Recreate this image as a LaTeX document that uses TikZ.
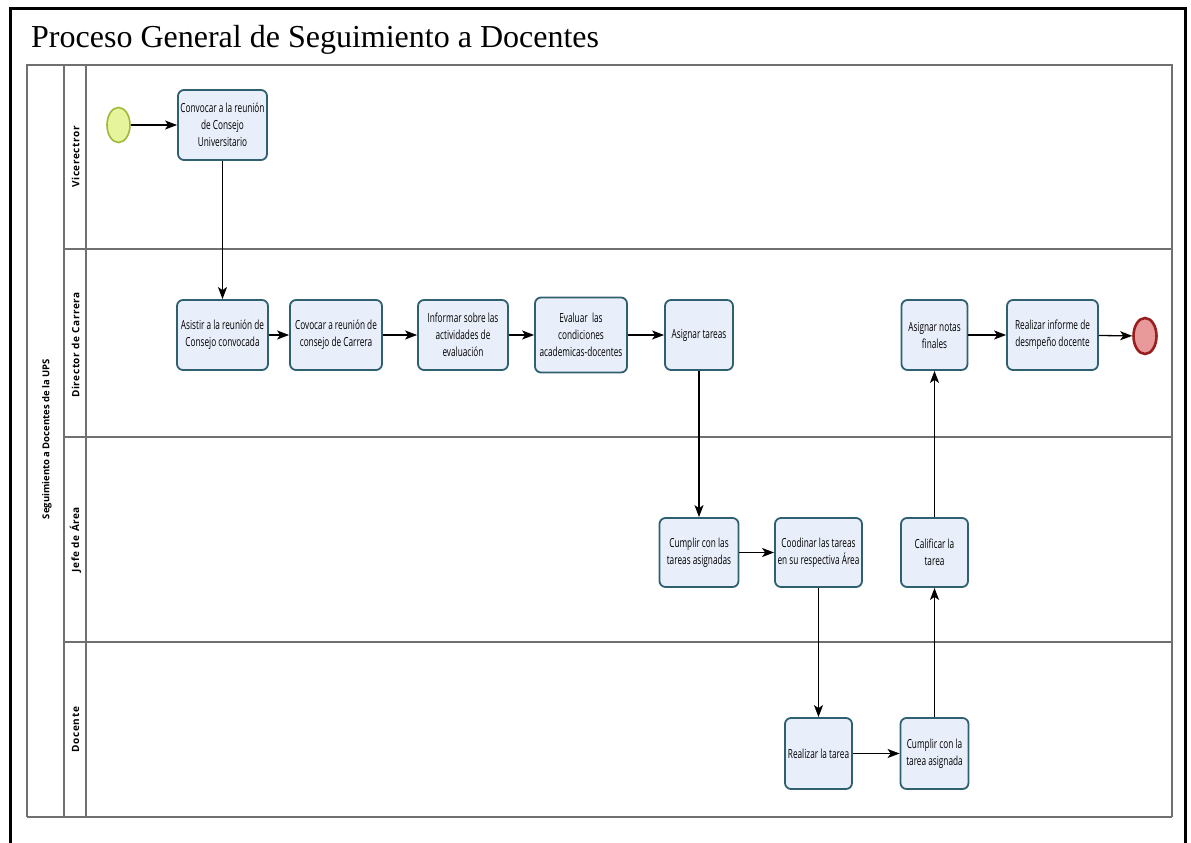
\documentclass[tikz,border=0pt]{standalone}
\usepackage{fontspec}
\setmainfont{Liberation Serif}
\newfontfamily\boxfont[FakeStretch=0.66]{Open Sans}
\newfontfamily\lanefont[LetterSpace=6]{Open Sans}
\newfontfamily\poolfont{Open Sans}
\usetikzlibrary{arrows.meta,shapes.geometric}
\definecolor{taskline}{HTML}{2F6070}
\definecolor{taskfill}{HTML}{E9EFFA}
\definecolor{poolline}{HTML}{707070}
\definecolor{startfill}{HTML}{E6F59C}
\definecolor{startline}{HTML}{9DB83A}
\definecolor{endfill}{HTML}{E89A9A}
\definecolor{endline}{HTML}{9A1E1E}
\tikzset{
  task/.style={draw=taskline, fill=taskfill, line width=1.8pt, rounded corners=6pt,
    font=\boxfont\fontsize{12.5}{17}\selectfont, align=center, inner sep=2pt},
  startev/.style={ellipse, draw=startline, fill=startfill, line width=1.6pt,
    minimum width=23pt, minimum height=35pt, inner sep=0pt},
  endev/.style={ellipse, draw=endline, fill=endfill, line width=2.6pt,
    minimum width=23pt, minimum height=36pt, inner sep=0pt},
  flow/.style={-{Stealth[length=12pt,width=9pt,inset=3pt]}, line width=1.3pt, black},
  lanelabel/.style={rotate=90, font=\lanefont\bfseries\fontsize{10}{12}\selectfont},
  poollabel/.style={rotate=90, font=\poolfont\bfseries\fontsize{9.5}{11}\selectfont},
  lanerule/.style={draw=poolline, line width=1.1pt}
}
\begin{document}
\begin{tikzpicture}[x=1pt,y=-1pt]
\useasboundingbox (0,0) rectangle (1191,843);
% outer frame, open at the bottom
\draw[line width=3pt] (10,843) -- (10,9) -- (1185,9) -- (1185,843);
% title
\node[anchor=base west, inner sep=0pt, font=\fontsize{32}{36}\selectfont] (title) at (31,48)
  {Proceso General de Seguimiento a Docentes};
% pool and lanes
\draw[lanerule] (27,817) -- (27,65) -- (1172,65) -- (1172,817);
\draw[draw=poolline, line width=2pt] (27,817) -- (1172,817);
\draw[lanerule] (64,65) -- (64,817);
\draw[lanerule] (86,65) -- (86,817);
\draw[lanerule] (64,249) -- (1172,249);
\draw[lanerule] (64,437) -- (1172,437);
\draw[lanerule] (64,642) -- (1172,642);
\node[poollabel] (pool) at (47,439) {Seguimiento a Docentes de la UPS};
\node[lanelabel] (l1) at (75.5,157) {Vicerectror};
\node[lanelabel] (l2) at (75.5,345) {Director de Carrera};
\node[lanelabel] (l3) at (75.5,539.5) {Jefe de Área};
\node[lanelabel] (l4) at (75.5,729.5) {Docente};
% events
\node[startev] (start) at (118.5,125) {};
\node[endev] (end) at (1145,336) {};
% tasks
\node[task, minimum width=89pt, minimum height=70pt] (conv) at (222.5,125)
  {Convocar a la reunión\\de Consejo\\Universitario};
\node[task, minimum width=91pt, minimum height=70pt] (asis) at (222.5,335)
  {Asistir a la reunión de\\Consejo convocada};
\node[task, minimum width=92pt, minimum height=70pt] (cov) at (336,335)
  {Covocar a reunión de\\consejo de Carrera};
\node[task, minimum width=90pt, minimum height=70pt] (inf) at (463,335)
  {Informar sobre las\\actividades de\\evaluación};
\node[task, minimum width=92pt, minimum height=75pt] (eval) at (581,335)
  {Evaluar\ \ las\\condiciones\\academicas-docentes};
\node[task, minimum width=68pt, minimum height=70pt] (asig) at (699,335)
  {Asignar tareas};
\node[task, minimum width=66pt, minimum height=70pt] (notas) at (934.5,335)
  {Asignar notas\\finales};
\node[task, minimum width=91pt, minimum height=70pt] (informe) at (1052.5,335)
  {Realizar informe de\\desmpeño docente};
\node[task, minimum width=79pt, minimum height=69pt] (cump) at (699,552.5)
  {Cumplir con las\\tareas asignadas};
\node[task, minimum width=87pt, minimum height=69pt] (coord) at (818.5,552.5)
  {Coodinar las tareas\\en su respectiva Área};
\node[task, minimum width=67pt, minimum height=69pt] (calif) at (934.5,552.5)
  {Calificar la\\tarea};
\node[task, minimum width=67pt, minimum height=71pt] (real) at (818.5,753.5)
  {Realizar la tarea};
\node[task, minimum width=68pt, minimum height=71pt] (cump2) at (934.5,753.5)
  {Cumplir con la\\tarea asignada};
% sequence flows
\draw[flow] (start) -- (conv);
\draw[flow] (conv) -- (asis);
\draw[flow] (asis) -- (cov);
\draw[flow] (cov) -- (inf);
\draw[flow] (inf) -- (eval);
\draw[flow] (eval) -- (asig);
\draw[flow] (asig) -- (cump);
\draw[flow] (cump) -- (coord);
\draw[flow] (coord) -- (real);
\draw[flow] (real) -- (cump2);
\draw[flow] (cump2) -- (calif);
\draw[flow] (calif) -- (notas);
\draw[flow] (notas) -- (informe);
\draw[flow] (informe) -- (end);
\end{tikzpicture}
\end{document}
